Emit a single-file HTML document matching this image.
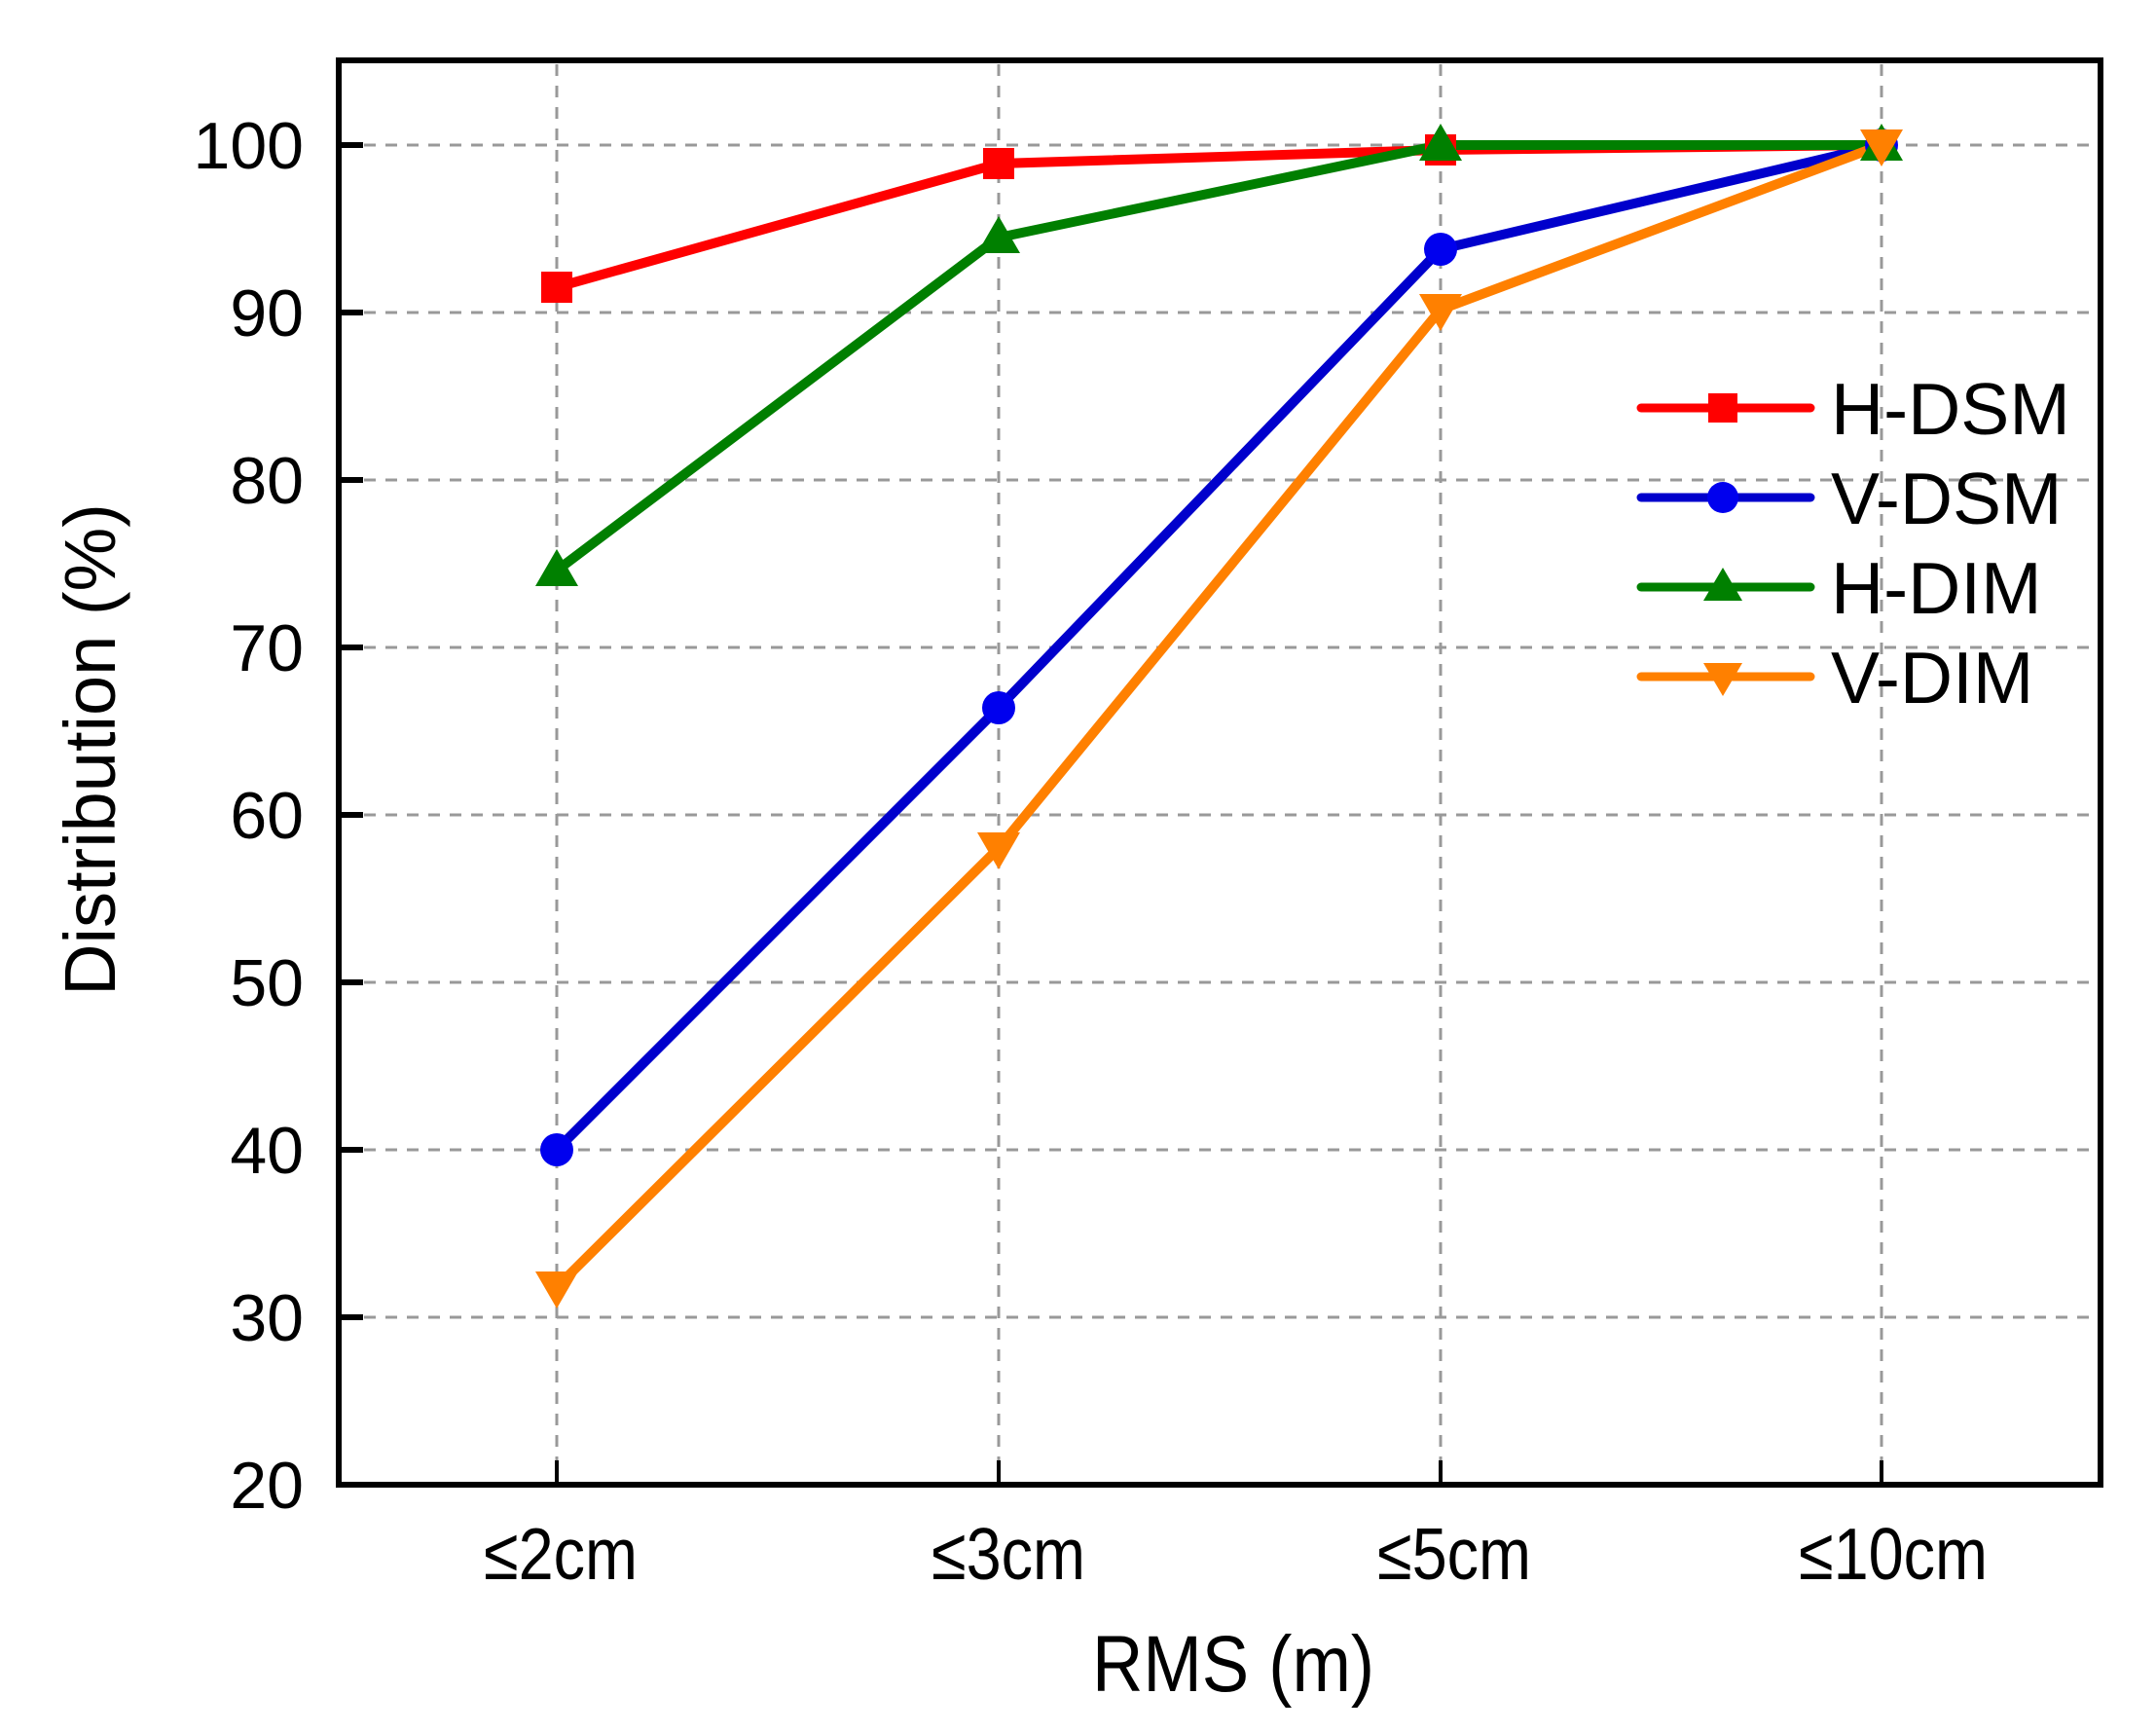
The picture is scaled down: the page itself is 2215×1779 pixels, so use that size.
<!DOCTYPE html>
<html><head><meta charset="utf-8"><style>
html,body{margin:0;padding:0;background:#fff;}
svg{display:block;}
text{font-family:"Liberation Sans",Arial,sans-serif;fill:#000;}
</style></head><body>
<svg width="2215" height="1779" viewBox="0 0 2215 1779" xmlns="http://www.w3.org/2000/svg">
<rect width="2215" height="1779" fill="#fff"/>
<g stroke="#999" stroke-width="3" stroke-dasharray="12,10">
<line x1="352" y1="149" x2="2156" y2="149"/>
<line x1="352" y1="321" x2="2156" y2="321"/>
<line x1="352" y1="493" x2="2156" y2="493"/>
<line x1="352" y1="665" x2="2156" y2="665"/>
<line x1="352" y1="837" x2="2156" y2="837"/>
<line x1="352" y1="1009" x2="2156" y2="1009"/>
<line x1="352" y1="1181" x2="2156" y2="1181"/>
<line x1="352" y1="1353" x2="2156" y2="1353"/>
<line x1="572" y1="66" x2="572" y2="1522"/>
<line x1="1026" y1="66" x2="1026" y2="1522"/>
<line x1="1480" y1="66" x2="1480" y2="1522"/>
<line x1="1933" y1="66" x2="1933" y2="1522"/>
</g>
<rect x="348" y="62" width="1810" height="1463" fill="none" stroke="#000" stroke-width="6"/>
<g stroke="#000" stroke-width="6">
<line x1="348" y1="149" x2="373" y2="149"/><line x1="348" y1="321" x2="373" y2="321"/>
<line x1="348" y1="493" x2="373" y2="493"/><line x1="348" y1="665" x2="373" y2="665"/>
<line x1="348" y1="837" x2="373" y2="837"/><line x1="348" y1="1009" x2="373" y2="1009"/>
<line x1="348" y1="1181" x2="373" y2="1181"/><line x1="348" y1="1353" x2="373" y2="1353"/>
</g>
<g stroke="#000" stroke-width="4">
<line x1="572" y1="1525" x2="572" y2="1500"/><line x1="1026" y1="1525" x2="1026" y2="1500"/>
<line x1="1480" y1="1525" x2="1480" y2="1500"/><line x1="1933" y1="1525" x2="1933" y2="1500"/>
</g>
<g font-size="68" text-anchor="end">
<text x="312" y="173">100</text><text x="312" y="345">90</text><text x="312" y="517">80</text>
<text x="312" y="689">70</text><text x="312" y="861">60</text><text x="312" y="1033">50</text>
<text x="312" y="1205">40</text><text x="312" y="1377">30</text><text x="312" y="1549">20</text>
</g>
<g font-size="72" text-anchor="middle">
<text transform="translate(576,1622) scale(0.9,1.05)">≤2cm</text>
<text transform="translate(1036,1622) scale(0.9,1.05)">≤3cm</text>
<text transform="translate(1494,1622) scale(0.9,1.05)">≤5cm</text>
<text transform="translate(1945,1622) scale(0.9,1.05)">≤10cm</text>
</g>
<text transform="translate(1267,1737) scale(0.93,1.05)" font-size="78" text-anchor="middle">RMS (m)</text>
<text transform="translate(118,770) rotate(-90)" font-size="74" text-anchor="middle">Distribution (%)</text>
<g fill="none" stroke-width="10" stroke-linejoin="round">
<polyline stroke="#f00" points="572,295 1026,168 1480,154 1933,149"/>
<polyline stroke="#0000cc" points="572,1181 1026,727 1480,256 1933,149"/>
<polyline stroke="#007f00" points="572,586 1026,244 1480,149 1933,149"/>
<polyline stroke="#ff8000" points="572,1322 1026,871 1480,318 1933,149"/>
</g>
<g fill="#f00"><rect x="556" y="279" width="32" height="32"/><rect x="1010" y="152" width="32" height="32"/><rect x="1464" y="138" width="32" height="32"/></g>
<g fill="#0000ee"><circle cx="572" cy="1181" r="17"/><circle cx="1026" cy="727" r="17"/><circle cx="1480" cy="256" r="17"/><circle cx="1933" cy="149" r="17"/></g>
<g fill="#008000"><polygon points="572,564 550,602 594,602"/><polygon points="1026,222 1004,260 1048,260"/><polygon points="1480,127 1458,165 1502,165"/><polygon points="1933,127 1911,165 1955,165"/></g>
<g fill="#ff8000"><polygon points="572,1344 550,1306 594,1306"/><polygon points="1026,893 1004,855 1048,855"/><polygon points="1480,340 1458,302 1502,302"/><polygon points="1933,171 1911,133 1955,133"/></g>
<g stroke-width="9" stroke-linecap="round">
<line x1="1686" y1="419" x2="1860" y2="419" stroke="#f00"/>
<line x1="1686" y1="511" x2="1860" y2="511" stroke="#0000cc"/>
<line x1="1686" y1="603" x2="1860" y2="603" stroke="#007f00"/>
<line x1="1686" y1="695" x2="1860" y2="695" stroke="#ff8000"/>
</g>
<rect x="1755" y="404" width="30" height="30" fill="#f00"/>
<circle cx="1770" cy="511" r="16" fill="#0000ee"/>
<polygon points="1770,583 1750,617 1790,617" fill="#008000"/>
<polygon points="1770,715 1750,681 1790,681" fill="#ff8000"/>
<g font-size="75">
<text x="1881" y="446">H-DSM</text><text x="1881" y="538">V-DSM</text>
<text x="1881" y="630">H-DIM</text><text x="1881" y="722">V-DIM</text>
</g>
</svg>
</body></html>
